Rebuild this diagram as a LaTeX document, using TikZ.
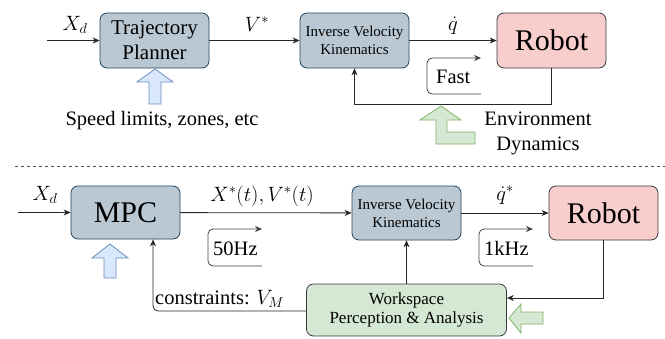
\documentclass[tikz,border=0pt]{standalone}
\usepackage{fontspec}
\setmainfont{Liberation Serif}
\usetikzlibrary{arrows.meta,positioning}
\definecolor{slatefill}{HTML}{BAC8D3}
\definecolor{slateline}{HTML}{23445D}
\definecolor{robotfill}{HTML}{F8CECC}
\definecolor{wsfill}{HTML}{D5E8D4}
\definecolor{boxline}{HTML}{36393D}
\definecolor{bluefill}{HTML}{DAE8FC}
\definecolor{blueline}{HTML}{6C8EBF}
\definecolor{greenline}{HTML}{82B366}

\begin{document}
\begin{tikzpicture}[x=1pt, y=-1pt,
    block/.style={rectangle, rounded corners=7pt, draw=slateline, fill=slatefill, thick, minimum width=109pt, minimum height=55pt, align=center, inner sep=0pt},
    robotbox/.style={block, draw=boxline, fill=robotfill, font=\fontsize{30}{36}\selectfont},
    wsbox/.style={block, draw=boxline, fill=wsfill, minimum width=200pt, minimum height=52pt, font=\fontsize{17}{19}\selectfont},
    ivkbox/.style={block, font=\fontsize{15}{18}\selectfont},
    flow/.style={draw=black!85, line width=0.8pt, -{Stealth[length=7pt,width=6pt]}},
    rate/.style={draw=black!75, line width=0.8pt, rounded corners=5pt, -{Stealth[length=7pt,width=6pt]}},
    txt/.style={inner sep=0pt, font=\fontsize{20.5}{25}\selectfont},
    bluehint/.style={draw=blueline, fill=bluefill, line width=0.8pt},
    greenhint/.style={draw=greenline, fill=wsfill, line width=0.8pt}
]
\useasboundingbox (0,0) rectangle (665,338);

% ---- top: classic planner ----
\node[block, font=\fontsize{21}{25}\selectfont] (tp) at (154.5,40.5) {Trajectory\\Planner};
\node[ivkbox] (ivk1) at (354.5,40.5) {Inverse Velocity\\Kinematics};
\node[robotbox] (robot1) at (551.5,40.5) {Robot};

\coordinate (xd1) at (47,40.5);
\coordinate (fb1) at (551.5,104);

\draw[flow] (xd1) -- (tp);
\draw[flow] (tp) -- (ivk1);
\draw[flow] (ivk1) -- (robot1);
\draw[flow] (robot1.south) -- (fb1) -| (ivk1.south);

\node[txt, anchor=base] (xdlbl1) at (75,30) {$X_d$};
\node[txt, anchor=base] (vlbl) at (257,31) {$V^*$};
\node[txt, anchor=base] (qlbl) at (453,30) {$\dot{q}$};

% fast loop
\coordinate (fastA) at (481,94);
\coordinate (fastB) at (427,94);
\coordinate (fastC) at (427,58);
\coordinate (fastD) at (481,58);
\draw[rate] (fastA) -- (fastB) -- (fastC) -- (fastD);
\node[txt, anchor=base west] (fast) at (436,83) {Fast};

\draw[bluehint] (155,69) -- (173,82) -- (161,82) -- (161,104) -- (149,104) -- (149,82) -- (137,82) -- cycle;
\node[txt, anchor=base] (limits) at (162,125) {Speed limits, zones, etc};

\draw[greenhint] (441,106) -- (461,120) -- (447,120) -- (447,132) -- (475,132) -- (475,144) -- (436,144) -- (436,120) -- (420,120) -- cycle;
\node[txt, anchor=base] (env) at (538,125) {Environment};
\node[txt, anchor=base] (dyn) at (538,150) {Dynamics};

% separator
\draw[black!70, line width=0.7pt, dash pattern=on 3pt off 3pt] (15,166) -- (665,166);

% ---- bottom: MPC scheme ----
\node[block, minimum height=53pt, font=\fontsize{30}{36}\selectfont] (mpc) at (125.5,212.5) {MPC};
\node[ivkbox, minimum height=54pt] (ivk2) at (406.5,213) {Inverse Velocity\\Kinematics};
\node[robotbox, minimum height=54pt] (robot2) at (603.5,213) {Robot};
\node[wsbox] (ws) at (406.5,310) {Workspace\\Perception \& Analysis};

\coordinate (xd2) at (18,212.5);

\draw[flow] (xd2) -- (mpc);
\draw[flow] (mpc) -- (ivk2);
\draw[flow] (ivk2) -- (robot2);
\draw[flow] (ws) -- (ivk2);
\draw[flow] (robot2.south) |- ([yshift=12pt]ws.east);
\draw[flow, rounded corners=5pt] ([yshift=-1pt]ws.west) -| ([xshift=27.5pt]mpc.south);

\node[txt, anchor=base] (xdlbl2) at (45,200) {$X_d$};
\node[txt, anchor=base] (xvlbl) at (262,201) {$X^*(t), V^*(t)$};
\node[txt, anchor=base] (qslbl) at (505,200) {$\dot{q}^*$};
\node[txt, anchor=base west] (cons) at (155,304) {constraints: $V_M$};

% rate loops
\draw[rate] (262,266) -- (208,266) -- (208,229) -- (262,229);
\node[txt, anchor=base west] (slow) at (213,255) {50Hz};
\draw[rate] (533,266) -- (479,266) -- (479,229) -- (533,229);
\node[txt, anchor=base west] (khz) at (484,255) {1kHz};

\draw[bluehint] (110,244) -- (128,258) -- (116,258) -- (116,278) -- (104,278) -- (104,258) -- (92,258) -- cycle;
\draw[greenhint] (509,318) -- (521,304) -- (521,312) -- (543,312) -- (543,324) -- (521,324) -- (521,333) -- cycle;

\end{tikzpicture}
\end{document}
